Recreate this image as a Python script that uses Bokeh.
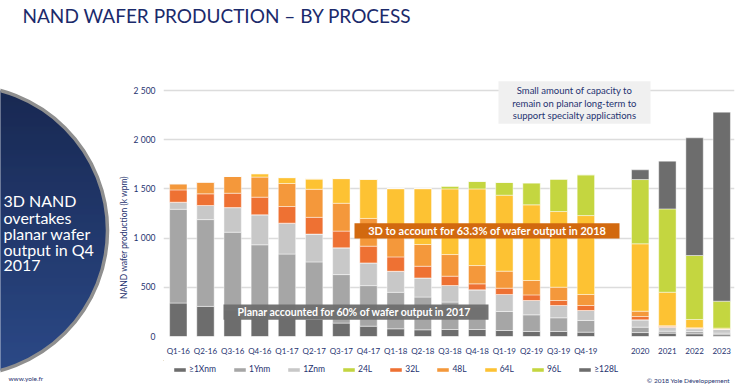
import numpy as np
from bokeh.plotting import figure
from bokeh.models import (ColumnDataSource, Range1d, FixedTicker, BoxAnnotation,
                          Label, Legend, LegendItem)
from bokeh.layouts import column, row
from bokeh.embed import file_html
from bokeh.resources import INLINE
from bokeh.core.properties import value

# ---------------- data ----------------
categories = ["Q1-16", "Q2-16", "Q3-16", "Q4-16", "Q1-17", "Q2-17", "Q3-17", "Q4-17",
              "Q1-18", "Q2-18", "Q3-18", "Q4-18", "Q1-19", "Q2-19", "Q3-19", "Q4-19",
              "2020", "2021", "2022", "2023"]
x1nm = [340, 306, 270, 235, 200, 175, 136, 105, 78, 68, 71, 71, 61, 51, 51, 44, 40, 34, 27, 17]
y1nm = [953, 882, 790, 697, 638, 583, 493, 412, 371, 333, 279, 229, 193, 169, 139, 119, 55, 20, 23, 17]
z1nm = [72, 143, 250, 305, 314, 283, 272, 231, 214, 194, 168, 174, 173, 146, 125, 101, 74, 41, 30, 37]
l24 = [0, 0, 0, 0, 0, 0, 0, 0, 0, 0, 0, 0, 0, 0, 0, 0, 0, 0, 0, 0]
l32 = [125, 119, 146, 179, 169, 170, 170, 170, 146, 119, 95, 61, 64, 57, 51, 51, 34, 7, 4, 2]
l48 = [63, 120, 170, 204, 234, 285, 283, 282, 231, 221, 220, 186, 173, 146, 135, 112, 54, 8, 4, 2]
l64 = [0, 0, 0, 35, 60, 106, 251, 398, 463, 568, 667, 779, 772, 769, 769, 802, 685, 340, 85, 10]
l96 = [0, 0, 0, 0, 0, 0, 0, 0, 0, 0, 28, 75, 129, 223, 329, 414, 653, 847, 650, 274]
l128 = [0, 0, 0, 0, 0, 0, 0, 0, 0, 0, 0, 0, 0, 0, 0, 0, 99, 485, 1196, 1921]

series_names = ["≥1Xnm", "1Ynm", "1Znm", "24L", "32L", "48L", "64L", "96L", "≥128L"]
y_ticks = [0, 500, 1000, 1500, 2000, 2500]
y_tick_labels = ["0", "500", "1 000", "1 500", "2 000", "2 500"]

title_text = "NAND WAFER PRODUCTION \u2013 BY PROCESS"
side_lines = ["3D NAND", "overtakes", "planar wafer", "output in Q4", "2017"]
note_planar = "Planar accounted for 60% of wafer output in 2017"
note_3d = "3D to account for 63.3% of wafer output in 2018"
note_small = ["Small amount of capacity to", "remain on planar long-term to",
              "support specialty applications"]

# ---------------- styles / geometry (page pixels, origin top-left) ----------------
NAVY = "#1f3370"
FONT = "Lato"
colors = ["#6d6d6d", "#a6a6a6", "#c8c8c8", "#c3d541", "#ee7133", "#f4983b",
          "#fdc233", "#c4d640", "#6d6d6d"]
X0, X1 = -0.545, 20.47          # x range
Y0, Y1 = 0, 2622                # y range
FL, FR, FT, FB = 163, 734, 78, 336   # frame edges on the page
MAIN_L, MAIN_T, MAIN_B = 130, 48, 360


def px2x(X):
    return X0 + (X - FL) * (X1 - X0) / (FR - FL)


def px2y(Y):
    return Y0 + (FB - Y) * (Y1 - Y0) / (FB - FT)


def deco(w, h, xr, yr):
    f = figure(width=w, height=h, x_range=Range1d(*xr), y_range=Range1d(*yr),
               toolbar_location=None, output_backend="svg", x_axis_location=None,
               y_axis_location=None, min_border=0)
    f.outline_line_color = None
    f.grid.visible = False
    f.background_fill_color = "white"
    f.border_fill_color = "white"
    return f


# one empty slot between quarters and years
x_pos = [i if i < 16 else i + 1 for i in range(len(categories))]
stackers = ["x1nm", "y1nm", "z1nm", "l24", "l32", "l48", "l64", "l96", "l128"]
src = ColumnDataSource(dict(x=x_pos, x1nm=x1nm, y1nm=y1nm, z1nm=z1nm, l24=l24,
                            l32=l32, l48=l48, l64=l64, l96=l96, l128=l128))

# ---------------- main chart ----------------
p = figure(width=750 - MAIN_L, height=MAIN_B - MAIN_T, x_range=Range1d(X0, X1),
           y_range=Range1d(Y0, Y1), toolbar_location=None, output_backend="svg",
           min_border_left=FL - MAIN_L, min_border_right=750 - FR,
           min_border_top=FT - MAIN_T, min_border_bottom=MAIN_B - FB)
p.outline_line_color = None
p.background_fill_color = "white"
p.border_fill_color = "white"

p.vbar_stack(stackers, x="x", width=0.64, fill_color=colors, line_color="white",
             line_alpha=0.45, line_width=1, source=src)

p.xgrid.grid_line_color = None
p.ygrid.grid_line_color = "#dcdcdc"
p.ygrid.grid_line_width = 1.6

p.xaxis.ticker = FixedTicker(ticks=x_pos)
p.xaxis.major_label_overrides = {xp: c for xp, c in zip(x_pos, categories)}
p.yaxis.ticker = FixedTicker(ticks=y_ticks)
p.yaxis.major_label_overrides = {t: l for t, l in zip(y_ticks, y_tick_labels)}
for ax in (p.xaxis[0], p.yaxis[0]):
    ax.axis_line_color = None
    ax.major_tick_line_color = None
    ax.minor_tick_line_color = None
    ax.major_tick_out = 0
    ax.major_tick_in = 0
    ax.minor_tick_out = 0
    ax.major_label_text_font = FONT
    ax.major_label_text_color = NAVY
p.xaxis.major_label_text_font_size = "8px"
p.yaxis.major_label_text_font_size = "8.5px"
p.xaxis.major_label_standoff = 9
p.yaxis.major_label_standoff = 8

p.add_layout(BoxAnnotation(left=px2x(223), right=px2x(488), bottom=px2y(319.3), top=px2y(304),
                           fill_color="#6e6e6e", fill_alpha=0.96, line_color=None))
p.add_layout(Label(x=px2x(354), y=px2y(311.7), text=note_planar, text_align="center",
                   text_baseline="middle", text_color="white", text_font=FONT,
                   text_font_style="bold", text_font_size="10.5px"))
p.add_layout(BoxAnnotation(left=px2x(354), right=px2x(619), bottom=px2y(238), top=px2y(222.7),
                           fill_color="#d2690f", fill_alpha=1, line_color=None))
p.add_layout(Label(x=px2x(487), y=px2y(230.3), text=note_3d, text_align="center",
                   text_baseline="middle", text_color="white", text_font=FONT,
                   text_font_style="bold", text_font_size="11px"))
p.add_layout(BoxAnnotation(left=px2x(498), right=px2x(650), bottom=px2y(123.3), top=px2y(80.7),
                           fill_color="#f0f0f0", fill_alpha=1, line_color=None))
for yy, t in zip([90, 102.5, 115], note_small):
    p.add_layout(Label(x=px2x(574), y=px2y(yy), text=t, text_align="center",
                       text_baseline="middle", text_color=NAVY, text_font=FONT,
                       text_font_size="9.5px"))

# ---------------- legend strip (page x 130..750, y 360..392) ----------------
strip = deco(750 - MAIN_L, 392 - MAIN_B, (MAIN_L, 750), (392, MAIN_B))
dummies = [strip.vbar(x=[-1000], top=[1], bottom=[0], width=1, fill_color=c,
                      line_color="white", line_alpha=0.45) for c in colors]
legend = Legend(items=[LegendItem(label=n, renderers=[r]) for n, r in zip(series_names, dummies)],
                orientation="horizontal", location=(9, 18), margin=0, padding=3,
                glyph_width=15, glyph_height=5, label_height=10, label_width=10,
                label_standoff=2, spacing=16,
                label_text_font=FONT, label_text_font_size="8.5px", label_text_color=NAVY,
                border_line_color=None, background_fill_alpha=0)
strip.add_layout(legend)
strip.text(x=[745], y=[380], text=["\u00a9 2018 Yole D\u00e9veloppement"], text_color=NAVY,
           text_font=value(FONT), text_font_size="6.5px", text_align="right",
           text_baseline="middle")

# ---------------- left panel (page x 0..130, y 48..392) ----------------
left = deco(MAIN_L, 392 - MAIN_T, (0, MAIN_L), (392, MAIN_T))
cx, cy, r = -38.0, 230.0, 145.0
rows = np.arange(cy - r, cy + r, 1.0)
mid = rows + 0.5 - cy
half = np.sqrt(np.clip(r * r - mid * mid, 0, None))
c0 = np.array([9, 26, 70]); c1 = np.array([30, 62, 128])
tt = (rows - rows.min()) / (rows.max() - rows.min())
grad = ["#%02x%02x%02x" % tuple((c0 + (c1 - c0) * t).astype(int)) for t in tt]
left.quad(left=cx - half, right=cx + half, top=rows - 0.25, bottom=rows + 1.25,
          fill_color=grad, line_color=None)
left.circle(x=[cx], y=[cy], radius=r, fill_color=None, line_color="#8f8f8f", line_width=3.5)
left.text(x=[3] * len(side_lines), y=[200, 216.5, 232.5, 248.5, 264.5], text=side_lines,
          text_color="white", text_font=value(FONT), text_font_size="16px",
          text_baseline="middle")
left.text(x=[123], y=[237], text=["NAND wafer production (k wpm)"], angle=np.pi / 2,
          text_color=NAVY, text_font=value(FONT), text_font_size="8.5px",
          text_align="center", text_baseline="middle")
left.text(x=[8], y=[378], text=["www.yole.fr"], text_color=NAVY, text_font=value(FONT),
          text_font_size="6.5px", text_baseline="middle")

# ---------------- title strip (page x 0..750, y 0..48) ----------------
top = deco(750, MAIN_T, (0, 750), (MAIN_T, 0))
top.text(x=[22], y=[15], text=[title_text], text_color="#1b2a6b", text_font=value(FONT),
         text_font_size="19px", text_baseline="middle")

layout = column(top, row(left, column(p, strip)))
open("out.html", "w").write(file_html(layout, INLINE))
